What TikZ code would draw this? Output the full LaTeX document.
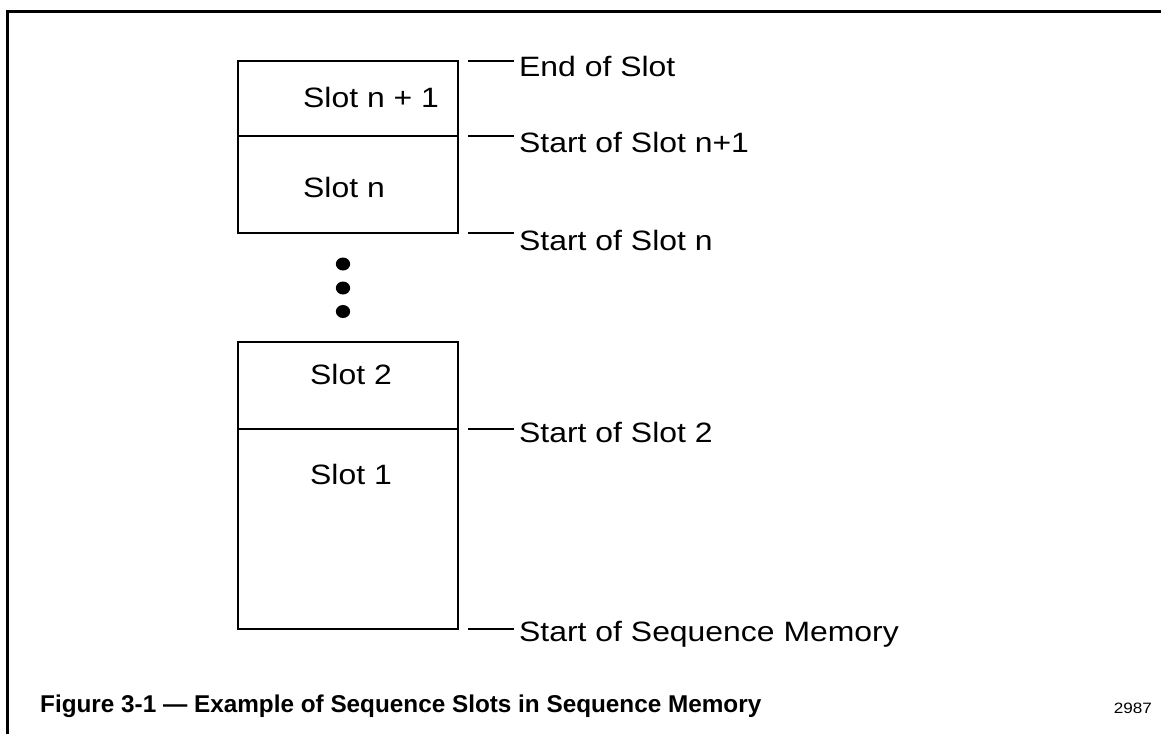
\documentclass[tikz,border=0pt]{standalone}
\usepackage{fontspec}
\setmainfont{Liberation Sans}[FakeStretch=1.14]
\newfontfamily\capfont{Liberation Sans}
\begin{document}
\begin{tikzpicture}[x=1pt,y=-1pt,
  slot/.style={draw,line width=1.8pt,minimum width=220pt,inner sep=0pt,outer sep=0pt},
  lbl/.style={inner sep=0pt,font=\fontsize{28}{32}\selectfont},
  tick/.style={line width=1.8pt},
  dotmark/.style={fill=black,circle,minimum size=13pt,inner sep=0pt,xscale=1.1}]
\useasboundingbox (0,0) rectangle (1161,734);
% frame
\coordinate (fbl) at (7.5,734);
\coordinate (ftl) at (7.5,11);
\coordinate (ftr) at (1161,11);
\draw[line width=3pt] (fbl) -- (ftl) -- (ftr);
% upper block
\node[slot,minimum height=75pt] (sn1) at (348,98.5) {};
\node[slot,minimum height=97pt] (sn) at (348,184.5) {};
\node[lbl,anchor=base west] (tsn1) at (303,107) {Slot n + 1};
\node[lbl,anchor=base west] (tsn) at (303,197) {Slot n};
% dots
\node[dotmark] (d1) at (343,264) {};
\node[dotmark] (d2) at (343,288) {};
\node[dotmark] (d3) at (343,311.5) {};
% lower block
\node[slot,minimum height=87pt] (s2) at (348,385.5) {};
\node[slot,minimum height=200pt] (s1) at (348,529) {};
\node[lbl,anchor=base west] (ts2) at (310,384) {Slot 2};
\node[lbl,anchor=base west] (ts1) at (310,484) {Slot 1};
% labels
\node[lbl,anchor=base west] (l1) at (519,76) {End of Slot};
\node[lbl,anchor=base west] (l2) at (519,152) {Start of Slot n+1};
\node[lbl,anchor=base west] (l3) at (519,250) {Start of Slot n};
\node[lbl,anchor=base west] (l4) at (519,442) {Start of Slot 2};
\node[lbl,anchor=base west] (l5) at (519,641) {Start of Sequence Memory};
% ticks
\coordinate (k1) at ([xshift=10pt]sn1.north east);
\coordinate (k2) at ([xshift=10pt]sn1.south east);
\coordinate (k3) at ([xshift=10pt]sn.south east);
\coordinate (k4) at ([xshift=10pt]s2.south east);
\coordinate (k5) at ([xshift=10pt]s1.south east);
\draw[tick] (k1) -- ([xshift=-5pt]k1 -| l1.west);
\draw[tick] (k2) -- ([xshift=-5pt]k2 -| l2.west);
\draw[tick] (k3) -- ([xshift=-5pt]k3 -| l3.west);
\draw[tick] (k4) -- ([xshift=-5pt]k4 -| l4.west);
\draw[tick] (k5) -- ([xshift=-5pt]k5 -| l5.west);
% caption
\node[inner sep=0pt,anchor=base west,font=\capfont\bfseries\fontsize{24.3}{28}\selectfont] (cap) at (40,712.3) {Figure 3-1 — Example of Sequence Slots in Sequence Memory};
\node[inner sep=0pt,anchor=base east,font=\fontsize{15}{17}\selectfont] (num) at (1152,713) {2987};
\end{tikzpicture}
\end{document}
